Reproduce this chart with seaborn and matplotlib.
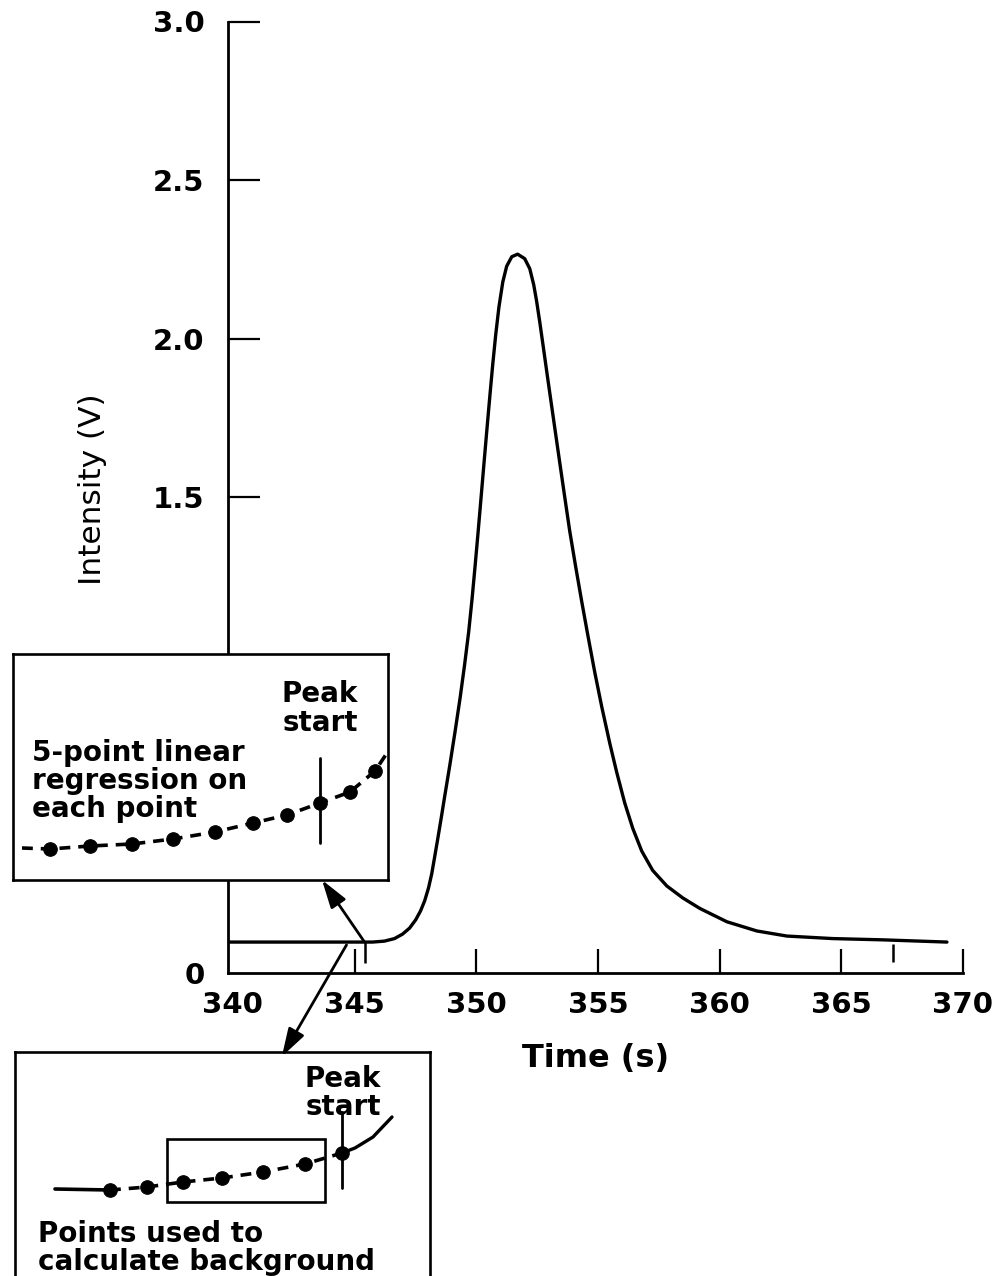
import numpy as np
import pandas as pd
import matplotlib
matplotlib.use("Agg")
import matplotlib.pyplot as plt
from matplotlib.patches import Rectangle, ConnectionPatch
import seaborn as sns

# ---------------- data ----------------
time_s = [339.8, 345.0, 345.74, 346.23, 346.64, 346.97, 347.26, 347.51, 347.71, 347.88,
          348.04, 348.17, 348.29, 348.41, 348.56, 348.70, 348.91, 349.13, 349.34, 349.52,
          349.69, 349.83, 349.95, 350.06, 350.16, 350.30, 350.43, 350.57, 350.68, 350.80,
          350.93, 351.09, 351.25, 351.46, 351.70,
          351.99, 352.20, 352.36, 352.48, 352.61, 352.77, 352.94, 353.10, 353.26, 353.43,
          353.63, 353.84, 354.09, 354.33, 354.58, 354.87, 355.16, 355.49, 355.77, 356.10,
          356.43, 356.80, 357.25, 357.83, 358.49, 359.19, 360.30, 361.53, 362.76, 364.65,
          366.71, 369.34]
intensity_v = [0.096, 0.096, 0.096, 0.099, 0.107, 0.121, 0.140, 0.166, 0.194, 0.226,
               0.267, 0.311, 0.364, 0.418, 0.487, 0.554, 0.652, 0.760, 0.868, 0.970,
               1.075, 1.180, 1.280, 1.375, 1.464, 1.590, 1.706, 1.828, 1.920, 2.012,
               2.098, 2.178, 2.228, 2.258, 2.266,
               2.252, 2.220, 2.170, 2.118, 2.052, 1.965, 1.872, 1.786, 1.700, 1.609,
               1.503, 1.393, 1.278, 1.172, 1.066, 0.947, 0.837, 0.722, 0.632, 0.535,
               0.455, 0.383, 0.322, 0.273, 0.235, 0.202, 0.160, 0.131, 0.115, 0.107,
               0.103, 0.096]

x_ticks = [340, 345, 350, 355, 360, 365, 370]
x_tick_labels = ["340", "345", "350", "355", "360", "365", "370"]
y_ticks = [0, 0.5, 1.0, 1.5, 2.0, 2.5, 3.0]
y_tick_labels = ["0", "", "", "1.5", "2.0", "2.5", "3.0"]   # 0.5 and 1.0 sit under the inset

peak_marks_s = [345.41, 367.12]        # peak start / peak end markers
arrow_origins = [(345.41, 0.096), (344.67, 0.087)]   # where the call-out arrows leave the baseline

# inset 1: 5-point linear regression (schematic units)
inset1_line_x = [9, 37, 77, 119, 160, 202, 240, 274, 307, 337, 362, 374]
inset1_line_y = [32, 31, 34, 36, 41, 48, 57, 65, 77, 88, 109, 127]
inset1_dot_x = [37, 77, 119, 160, 202, 240, 274, 307, 337, 362]
inset1_dot_y = [31, 34, 36, 41, 48, 57, 65, 77, 88, 109]

# inset 2: points used to calculate background (schematic units)
inset2_lead_x = [40, 95]
inset2_lead_y = [89, 88]
inset2_dot_x = [95, 132, 168, 207, 248, 290, 327]
inset2_dot_y = [88, 91, 96, 100, 106, 114, 125]
inset2_tail_x = [327, 340, 358, 377]
inset2_tail_y = [125, 130, 141, 161]

# ---------------- style ----------------
sns.set_style("white")
plt.rcParams["font.family"] = ["DejaVu Sans"]
plt.rcParams["text.color"] = "black"
plt.rcParams["axes.labelcolor"] = "black"
plt.rcParams["xtick.color"] = "black"
plt.rcParams["ytick.color"] = "black"

W, H = 1003, 1276
fig = plt.figure(figsize=(W / 100, H / 100), dpi=100)
fig.patch.set_facecolor("white")

ax = fig.add_axes([228 / W, (H - 972.5) / H, 735 / W, 951 / H])
sns.lineplot(x=time_s, y=intensity_v, ax=ax, sort=False, estimator=None,
             color="black", lw=2.4)
for ln in ax.lines:
    ln.set_solid_joinstyle("round")
    ln.set_solid_capstyle("round")
ax.set_xlim(339.8, 370)
ax.set_ylim(0, 3.0)
ax.set_xticks(x_ticks)
ax.set_xticklabels(x_tick_labels, fontsize=21, fontweight="bold")
ax.set_yticks(y_ticks)
ax.set_yticklabels(y_tick_labels, fontsize=21, fontweight="bold")
for s in ["top", "right"]:
    ax.spines[s].set_visible(False)
for s in ["left", "bottom"]:
    ax.spines[s].set_linewidth(2.0)
    ax.spines[s].set_color("black")
ax.tick_params(axis="x", which="major", bottom=True, direction="in", length=17,
               width=1.6, pad=13, colors="black")
ax.tick_params(axis="y", which="major", left=True, direction="in", length=23,
               width=1.6, pad=17, colors="black")
ax.xaxis.get_major_ticks()[0].tick1line.set_visible(False)
ax.yaxis.get_major_ticks()[0].tick1line.set_visible(False)
ax.set_facecolor("white")
ax.grid(False)

ax.vlines(peak_marks_s, [0.03, 0.033], [0.096, 0.09], color="black", lw=1.8)

ax.set_xlabel("Time (s)", fontsize=23, fontweight="bold")
ax.xaxis.set_label_coords(0.5, -0.074)
ax.set_ylabel("Intensity (V)", fontsize=22.5, va="center")
ax.yaxis.set_label_coords(-0.184, 0.508)

# ---------------- inset 1 ----------------
ins1 = fig.add_axes([13 / W, (H - 880) / H, 375 / W, 226 / H])
ins1.set_xlim(0, 375)
ins1.set_ylim(0, 226)
ins1.set_xticks([])
ins1.set_yticks([])
ins1.set_facecolor("white")
for s in ins1.spines.values():
    s.set_visible(True)
    s.set_linewidth(1.9)
    s.set_color("black")
sns.lineplot(x=inset1_line_x, y=inset1_line_y, ax=ins1, sort=False, estimator=None,
             color="black", lw=2.6, linestyle=(0, (3, 2.2)))
sns.scatterplot(x=inset1_dot_x, y=inset1_dot_y, ax=ins1, color="black", s=95,
                edgecolor="black", zorder=3)
ins1.plot([307, 307], [37, 122], color="black", lw=2.0)
ins1.text(307, 200, "Peak\nstart", ha="center", va="top", fontsize=20,
          fontweight="bold", linespacing=1.05)
ins1.text(19, 141, "5-point linear\nregression on\neach point", ha="left", va="top",
          fontsize=20, fontweight="bold", linespacing=1.0)

# ---------------- inset 2 ----------------
ins2 = fig.add_axes([15 / W, (H - 1278) / H, 415 / W, 226 / H])
ins2.set_xlim(0, 415)
ins2.set_ylim(0, 226)
ins2.set_xticks([])
ins2.set_yticks([])
ins2.set_facecolor("white")
for s in ins2.spines.values():
    s.set_visible(True)
    s.set_linewidth(1.9)
    s.set_color("black")
sns.lineplot(x=inset2_lead_x, y=inset2_lead_y, ax=ins2, sort=False, estimator=None,
             color="black", lw=2.6)
sns.lineplot(x=inset2_dot_x, y=inset2_dot_y, ax=ins2, sort=False, estimator=None,
             color="black", lw=2.6, linestyle=(0, (3, 2.2)))
sns.lineplot(x=inset2_tail_x, y=inset2_tail_y, ax=ins2, sort=False, estimator=None,
             color="black", lw=2.4)
sns.scatterplot(x=inset2_dot_x, y=inset2_dot_y, ax=ins2, color="black", s=95,
                edgecolor="black", zorder=3)
ins2.add_patch(Rectangle((152, 76), 158, 63, fill=False, ec="black", lw=1.9))
ins2.plot([327, 327], [90, 166], color="black", lw=2.0)
ins2.text(328, 213, "Peak\nstart", ha="center", va="top", fontsize=20,
          fontweight="bold", linespacing=1.0)
ins2.text(23, 58, "Points used to\ncalculate background", ha="left", va="top",
          fontsize=20, fontweight="bold", linespacing=0.98)

# ---------------- arrows ----------------
arr1 = ConnectionPatch(xyA=arrow_origins[0], coordsA=ax.transData,
                       xyB=(0.824, 0.0), coordsB=ins1.transAxes,
                       arrowstyle="-|>,head_length=0.9,head_width=0.28",
                       mutation_scale=19, lw=2.0, color="black",
                       shrinkA=0, shrinkB=0, zorder=10)
fig.add_artist(arr1)
arr2 = ConnectionPatch(xyA=arrow_origins[1], coordsA=ax.transData,
                       xyB=(0.643, 0.98), coordsB=ins2.transAxes,
                       arrowstyle="-|>,head_length=0.9,head_width=0.28",
                       mutation_scale=19, lw=2.0, color="black",
                       shrinkA=0, shrinkB=0, zorder=10)
fig.add_artist(arr2)

fig.savefig("out.png", dpi=100, facecolor="white")
